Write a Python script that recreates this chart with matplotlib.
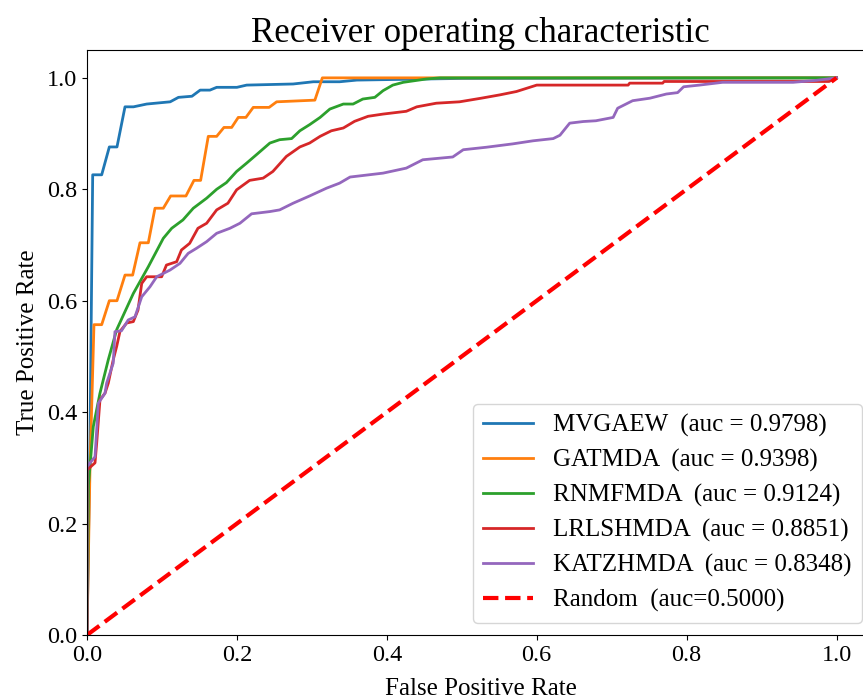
import matplotlib
matplotlib.use("Agg")
import matplotlib.pyplot as plt

plt.rcParams["font.family"] = ["Liberation Serif", "DejaVu Serif"]

mvgaew_fpr = [0, 0.004, 0.0076, 0.0196, 0.0298, 0.040, 0.0507, 0.062, 0.0796, 0.111, 0.122, 0.140,
              0.151, 0.164, 0.173, 0.200, 0.213, 0.275, 0.302, 0.337, 0.36, 0.50, 1.0]
mvgaew_tpr = [0, 0.35, 0.826, 0.826, 0.876, 0.876, 0.948, 0.948, 0.953, 0.957, 0.965, 0.967,
              0.978, 0.978, 0.983, 0.983, 0.987, 0.989, 0.993, 0.993, 0.996, 0.999, 1.0]

gatmda_fpr = [0, 0.002, 0.004, 0.0093, 0.0196, 0.0298, 0.040, 0.0507, 0.0609, 0.0707, 0.0818,
              0.0907, 0.1018, 0.1116, 0.132, 0.1427, 0.1516, 0.1618, 0.173, 0.1827, 0.193,
              0.2018, 0.212, 0.2218, 0.243, 0.253, 0.304, 0.314, 1.0]
gatmda_tpr = [0, 0.15, 0.30, 0.557, 0.557, 0.600, 0.600, 0.646, 0.646, 0.704, 0.704,
              0.766, 0.766, 0.788, 0.788, 0.816, 0.816, 0.895, 0.895, 0.911, 0.911,
              0.929, 0.929, 0.947, 0.947, 0.957, 0.960, 1.0, 1.0]

rnmfmda_fpr = [0, 0.001, 0.002, 0.0084, 0.0173, 0.0284, 0.0396, 0.0618, 0.0818, 0.1018, 0.113,
               0.128, 0.1418, 0.1596, 0.173, 0.186, 0.1996, 0.213, 0.226, 0.244, 0.257, 0.273,
               0.284, 0.297, 0.311, 0.324, 0.342, 0.355, 0.368, 0.384, 0.395, 0.408, 0.422,
               0.453, 0.471, 1.0]
rnmfmda_tpr = [0, 0.12, 0.27, 0.374, 0.434, 0.494, 0.548, 0.613, 0.661, 0.712, 0.730,
               0.745, 0.766, 0.784, 0.800, 0.812, 0.832, 0.847, 0.862, 0.883, 0.889, 0.891,
               0.905, 0.916, 0.929, 0.944, 0.953, 0.953, 0.962, 0.965, 0.977, 0.987, 0.992,
               0.998, 1.0, 1.0]

lrlshmda_fpr = [0, 0, 0.0107, 0.0129, 0.0173, 0.024, 0.0284, 0.035, 0.0396, 0.044, 0.053, 0.0618,
                0.068, 0.073, 0.0796, 0.0996, 0.106, 0.1196, 0.126, 0.137, 0.148, 0.1596, 0.173,
                0.188, 0.1996, 0.217, 0.235, 0.248, 0.266, 0.284, 0.297, 0.311, 0.326, 0.342,
                0.357, 0.375, 0.395, 0.426, 0.44, 0.466, 0.497, 0.526, 0.551, 0.573, 0.600,
                0.722, 0.724, 0.768, 0.770, 0.99, 1.0]
lrlshmda_tpr = [0, 0.296, 0.309, 0.344, 0.422, 0.434, 0.452, 0.494, 0.518, 0.545, 0.560, 0.5625,
                0.583, 0.631, 0.643, 0.643, 0.664, 0.670, 0.691, 0.703, 0.730, 0.739, 0.763,
                0.775, 0.799, 0.816, 0.820, 0.832, 0.859, 0.876, 0.883, 0.895, 0.905, 0.910,
                0.922, 0.931, 0.935, 0.940, 0.948, 0.9545, 0.957, 0.9635, 0.9695, 0.9755, 0.987,
                0.987, 0.9905, 0.9905, 0.9935, 0.9935, 1.0]

katzhmda_fpr = [0, 0, 0.0107, 0.0151, 0.024, 0.0262, 0.035, 0.0373, 0.046, 0.055, 0.064, 0.073,
                0.084, 0.093, 0.1107, 0.124, 0.135, 0.146, 0.1596, 0.173, 0.1907, 0.204, 0.2196,
                0.244, 0.257, 0.275, 0.297, 0.3196, 0.337, 0.351, 0.395, 0.426, 0.448, 0.488,
                0.502, 0.533, 0.568, 0.595, 0.622, 0.631, 0.644, 0.662, 0.679, 0.702, 0.708,
                0.728, 0.751, 0.773, 0.788, 0.796, 0.817, 0.848, 0.942, 0.973, 1.0]
katzhmda_tpr = [0, 0.302, 0.320, 0.416, 0.434, 0.452, 0.488, 0.5445, 0.546, 0.5655, 0.571, 0.607,
                0.625, 0.643, 0.655, 0.667, 0.685, 0.694, 0.706, 0.721, 0.730, 0.739, 0.756,
                0.760, 0.763, 0.775, 0.788, 0.802, 0.811, 0.822, 0.829, 0.838, 0.853, 0.858,
                0.871, 0.8755, 0.8815, 0.887, 0.891, 0.897, 0.9187, 0.9216, 0.923, 0.929, 0.9455,
                0.959, 0.9635, 0.971, 0.9735, 0.984, 0.987, 0.992, 0.992, 0.9955, 1.0]

random_fpr = [0, 1]
random_tpr = [0, 1]

labels = ["MVGAEW  (auc = 0.9798)", "GATMDA  (auc = 0.9398)", "RNMFMDA  (auc = 0.9124)",
          "LRLSHMDA  (auc = 0.8851)", "KATZHMDA  (auc = 0.8348)", "Random  (auc=0.5000)"]

fig = plt.figure(figsize=(8.63, 6.99), dpi=100)
ax = fig.add_axes([87 / 863, 64 / 699, 787 / 863, 585 / 699])

ax.plot(mvgaew_fpr, mvgaew_tpr, color="#1f77b4", lw=2, label=labels[0])
ax.plot(gatmda_fpr, gatmda_tpr, color="#ff7f0e", lw=2, label=labels[1])
ax.plot(rnmfmda_fpr, rnmfmda_tpr, color="#2ca02c", lw=2, label=labels[2])
ax.plot(lrlshmda_fpr, lrlshmda_tpr, color="#d62728", lw=2, label=labels[3])
ax.plot(katzhmda_fpr, katzhmda_tpr, color="#9467bd", lw=2, label=labels[4])
ax.plot(random_fpr, random_tpr, color="red", lw=3, linestyle="--", label=labels[5])

ax.set_xlim(0.0, 1.05)
ax.set_ylim(0.0, 1.05)
ax.tick_params(labelsize=17.5)
ax.set_xlabel("False Positive Rate", fontsize=18, labelpad=9)
ax.set_ylabel("True Positive Rate", fontsize=18, labelpad=6)
ax.set_title("Receiver operating characteristic", fontsize=25)
ax.legend(loc="lower right", fontsize=18, labelspacing=0.48)

fig.savefig("out.png", dpi=100)
plt.close()
